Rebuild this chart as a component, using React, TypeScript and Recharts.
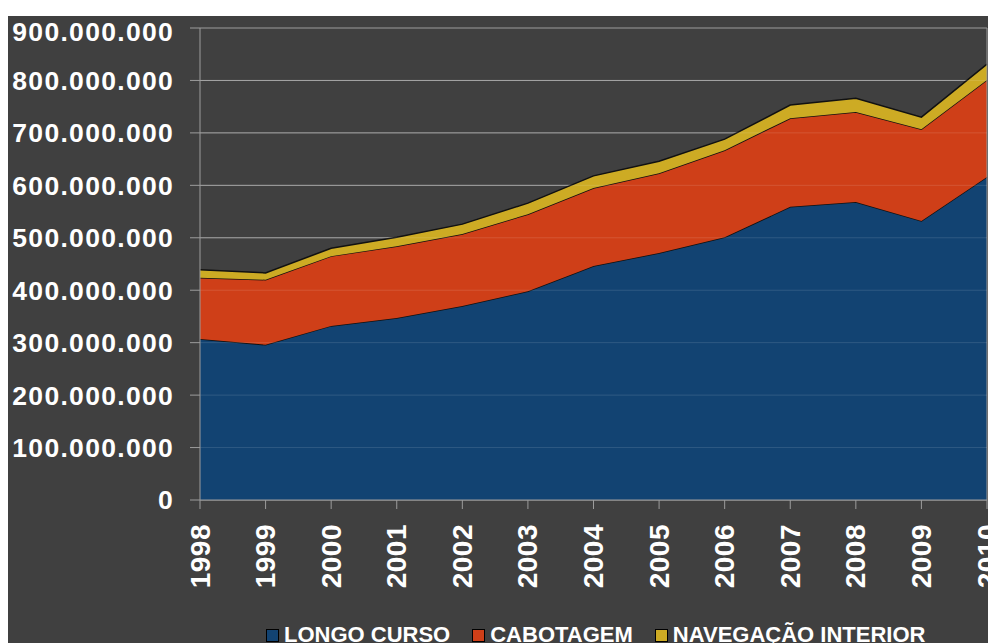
import React from 'react';
import { AreaChart, Area, XAxis, YAxis, CartesianGrid, ReferenceLine } from 'recharts';

// values in millions of tonnes
const years = ['1998', '1999', '2000', '2001', '2002', '2003', '2004', '2005', '2006', '2007', '2008', '2009', '2010'];
const longoCurso = [307, 296, 332, 347, 370, 398, 446, 471, 501, 559, 568, 532, 616];
const cabotagem = [117, 124, 133, 137, 137, 147, 149, 152, 166, 169, 172, 175, 185];
const navegacaoInterior = [15, 13, 15, 17, 19, 21, 23, 23, 21, 25, 26, 23, 30];
const yTicks = [0, 100, 200, 300, 400, 500, 600, 700, 800, 900].map((v) => v * 1e6);

const data = years.map((year, i) => ({
  year,
  longo: longoCurso[i] * 1e6,
  cabotagem: cabotagem[i] * 1e6,
  interior: navegacaoInterior[i] * 1e6,
}));

const FONT = '"Liberation Sans", Arial, sans-serif';
const GRID = '#9c9c9c';

const fmt = (v: number) => String(v).replace(/\B(?=(\d{3})+(?!\d))/g, '.');

const XTick = (props: any) => {
  const { x, y, payload } = props;
  const ty = y + 13;
  return (
    <text
      x={x}
      y={ty}
      transform={`rotate(-90 ${x} ${ty})`}
      textAnchor="end"
      dominantBaseline="central"
      fill="#ffffff"
      fontFamily={FONT}
      fontWeight="bold"
      fontSize={28}
      letterSpacing={0.5}
    >
      {payload.value}
    </text>
  );
};

const legendItems = [
  { name: 'LONGO CURSO', color: '#124372' },
  { name: 'CABOTAGEM', color: '#cf3f18' },
  { name: 'NAVEGAÇÃO INTERIOR', color: '#cdab24' },
];

export default function App() {
  return (
    <div
      style={{
        position: 'fixed',
        left: 8,
        top: 16,
        width: 980,
        height: 627,
        overflow: 'hidden',
        background: '#404040',
      }}
    >
      <AreaChart
        width={1040}
        height={660}
        data={data}
        margin={{ top: 12, right: 61, bottom: 0, left: 0 }}
      >
        <CartesianGrid vertical={false} stroke={GRID} strokeWidth={1} />
        <XAxis
          dataKey="year"
          interval={0}
          height={176}
          tickSize={9}
          axisLine={{ stroke: GRID }}
          tickLine={{ stroke: GRID }}
          tick={<XTick />}
        />
        <YAxis
          domain={[0, 900e6]}
          ticks={yTicks}
          width={192}
          tickSize={10}
          tickMargin={16}
          tickFormatter={fmt}
          axisLine={{ stroke: GRID }}
          tickLine={{ stroke: GRID }}
          tick={{ fill: '#ffffff', fontFamily: FONT, fontWeight: 'bold', fontSize: 26.5, letterSpacing: 1.3 }}
        />
        <ReferenceLine x="2010" stroke={GRID} />
        <Area
          type="linear"
          dataKey="longo"
          stackId="1"
          fill="#124372"
          fillOpacity={1}
          stroke="#111111"
          strokeWidth={1.5}
          isAnimationActive={false}
        />
        <Area
          type="linear"
          dataKey="cabotagem"
          stackId="1"
          fill="#cf3f18"
          fillOpacity={1}
          stroke="#111111"
          strokeWidth={1.5}
          isAnimationActive={false}
        />
        <Area
          type="linear"
          dataKey="interior"
          stackId="1"
          fill="#cdab24"
          fillOpacity={1}
          stroke="#111111"
          strokeWidth={1.5}
          isAnimationActive={false}
        />
        {yTicks.slice(1, 9).map((t) => (
          <ReferenceLine key={t} y={t} stroke="#ffffff" strokeOpacity={0.12} />
        ))}
      </AreaChart>
      <div
        style={{
          position: 'absolute',
          left: 258,
          top: 607,
          display: 'flex',
          alignItems: 'center',
          whiteSpace: 'nowrap',
          fontFamily: FONT,
          fontWeight: 'bold',
          fontSize: 22,
          lineHeight: '24px',
          color: '#ffffff',
        }}
      >
        {legendItems.map((it) => (
          <div key={it.name} style={{ display: 'flex', alignItems: 'center', marginRight: 22 }}>
            <span
              style={{
                width: 11,
                height: 11,
                background: it.color,
                border: '1px solid #000',
                marginRight: 5,
                display: 'inline-block',
              }}
            />
            <span>{it.name}</span>
          </div>
        ))}
      </div>
    </div>
  );
}
